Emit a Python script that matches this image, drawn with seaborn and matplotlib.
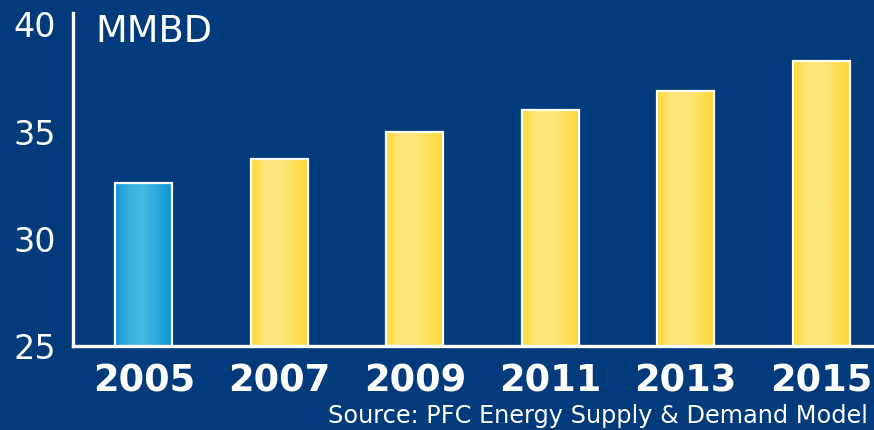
import numpy as np
import pandas as pd
import matplotlib
matplotlib.use("Agg")
import matplotlib.pyplot as plt
from matplotlib.colors import LinearSegmentedColormap
import seaborn as sns

# Oil demand, million barrels per day
years = ["2005", "2007", "2009", "2011", "2013", "2015"]
demand = [32.6, 33.7, 35.0, 36.0, 36.9, 38.3]
kind = ["Actual", "Forecast", "Forecast", "Forecast", "Forecast", "Forecast"]
yticks = [25, 30, 35, 40]
unit_label = "MMBD"
source_note = "Source: PFC Energy Supply & Demand Model"

BG = "#013B7B"
# Horizontal shading: edge -> light centre -> edge
shades = {
    "Actual": ["#0E94D5", "#3BB2E3", "#44B7E5", "#2AA8DF", "#0E94D5"],
    "Forecast": ["#FFD735", "#FEE579", "#FEE67E", "#FEDF5C", "#FFD735"],
}

df = pd.DataFrame({"year": years, "demand": demand, "kind": kind})

sns.set_theme(style="white")
plt.rcParams["font.family"] = ["DejaVu Sans"]

fig = plt.figure(figsize=(8.74, 4.30), dpi=100, facecolor=BG)
W, H = 874, 430
ax = fig.add_axes([73 / W, (H - 346) / H, (W - 73) / W, (346 - 13) / H])
ax.set_facecolor(BG)

sns.barplot(data=df, x="year", y="demand", color="#FFD735", width=0.42,
            ax=ax, saturation=1)

ax.set_xlim(-0.523, 5.39)
ax.set_ylim(25, 40.53)
y_floor = ax.get_ylim()[0]

grad = np.linspace(0, 1, 256).reshape(1, -1)
for patch, k in zip(ax.patches, df["kind"]):
    x0, w, h = patch.get_x(), patch.get_width(), patch.get_height()
    cmap = LinearSegmentedColormap.from_list(k, shades[k])
    im = ax.imshow(grad, cmap=cmap, aspect="auto",
                   extent=(x0, x0 + w, y_floor, h),
                   zorder=2, interpolation="bicubic")
    im.set_clip_path(patch)
    patch.set_facecolor("none")
    patch.set_edgecolor("white")
    patch.set_linewidth(1.6)
    patch.set_zorder(3)

ax.set_xlim(-0.523, 5.39)
ax.set_ylim(25, 40.53)
ax.set_yticks(yticks)
ax.set_yticklabels([str(t) for t in yticks])
ax.set_xlabel("")
ax.set_ylabel("")

for side in ("top", "right"):
    ax.spines[side].set_visible(False)
for side in ("left", "bottom"):
    ax.spines[side].set_color("white")
    ax.spines[side].set_linewidth(2.4)
    ax.spines[side].set_zorder(4)

ax.tick_params(axis="y", length=0, pad=12, labelsize=24, labelcolor="white")
ax.tick_params(axis="x", length=0, pad=12, labelsize=26.5, labelcolor="white")
for lbl in ax.get_xticklabels():
    lbl.set_fontweight("bold")

fig.text(95 / W, 1 - 31 / H, unit_label, color="white", fontsize=26.5,
         ha="left", va="center")
fig.text(868 / W, 1 - 416 / H, source_note, color="white", fontsize=17.3,
         ha="right", va="center")

fig.savefig("out.png", dpi=100, facecolor=BG)
